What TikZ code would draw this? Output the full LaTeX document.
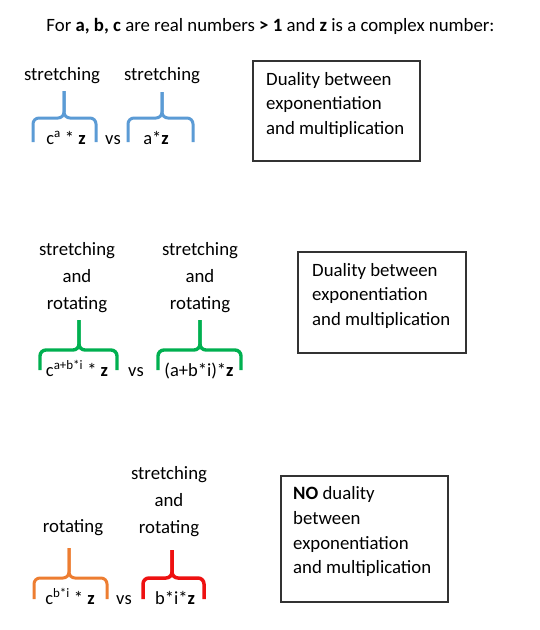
\documentclass[tikz,border=0pt]{standalone}
\usepackage{fontspec}
\setmainfont{Carlito}
\definecolor{bblue}{HTML}{5B9BD5}
\definecolor{bgreen}{HTML}{00B050}
\definecolor{borange}{HTML}{ED7D31}
\definecolor{bred}{HTML}{EE1111}
\newcommand{\drawbrace}[7]{%
  \draw[#1, rounded corners=6pt] (#2,#7) -- (#2,#6) -- (#3,#6) -- (#3,#5);
  \draw[#1, rounded corners=6pt] (#3,#5) -- (#3,#6) -- (#4,#6) -- (#4,#7);}
\begin{document}
\begin{tikzpicture}[x=1pt,y=-1pt,
  txt/.style={inner sep=0pt, anchor=base, font=\fontsize{18.8}{22}\selectfont},
  ltxt/.style={inner sep=0pt, anchor=base west, font=\fontsize{18.8}{22}\selectfont},
  ftxt/.style={inner sep=0pt, anchor=base, font=\fontsize{18.5}{22}\selectfont},
  infobox/.style={draw=black!80, line width=1.2pt, inner sep=0pt},
  brace/.style={line width=3pt, line cap=butt}]
\useasboundingbox (0,0) rectangle (540,630);
\fill[white] (0,0) rectangle (540,630);

% title
\node[txt] (title) at (270.5,31) {For \textbf{a, b, c} are real numbers \textbf{> 1} and \textbf{z} is a complex number:};

% ---------- group 1 ----------
\node[txt] (s1) at (62,80) {stretching};
\node[txt] (s2) at (162,80) {stretching};
\drawbrace{brace,bblue}{33}{64}{96}{91}{118}{142}
\drawbrace{brace,bblue}{128}{162}{193}{92}{118}{142}
\node[ftxt] (f1a) at (66,144) {c\textsuperscript{a} * \textbf{z}};
\node[ftxt] (vs1) at (113,144) {vs};
\node[ftxt] (f1b) at (156,144) {a*\textbf{z}};
\draw[infobox] (253,61) rectangle (420,161);
\node[ltxt] (b1l1) at (266,85) {Duality between};
\node[ltxt] (b1l2) at (266,109.5) {exponentiation};
\node[ltxt] (b1l3) at (266,134) {and multiplication};

% ---------- group 2 ----------
\node[txt] (g2a1) at (77,255) {stretching};
\node[txt] (g2a2) at (77,282) {and};
\node[txt] (g2a3) at (77,309) {rotating};
\node[txt] (g2b1) at (200,255) {stretching};
\node[txt] (g2b2) at (200,282) {and};
\node[txt] (g2b3) at (200,309) {rotating};
\drawbrace{brace,bgreen,line width=3.4pt}{40}{79}{117}{320}{350}{370}
\drawbrace{brace,bgreen,line width=3.4pt}{158}{200}{241}{320}{350}{370}
\node[ftxt] (f2a) at (77,376) {c\textsuperscript{a+b*i} * \textbf{z}};
\node[ftxt] (vs2) at (136,376) {vs};
\node[ftxt] (f2b) at (199,376) {(a+b*i)*\textbf{z}};
\draw[infobox] (298,252) rectangle (466,353);
\node[ltxt] (b2l1) at (312,276) {Duality between};
\node[ltxt] (b2l2) at (312,300.5) {exponentiation};
\node[ltxt] (b2l3) at (312,325) {and multiplication};

% ---------- group 3 ----------
\node[txt] (g3a1) at (73,532) {rotating};
\node[txt] (g3b1) at (169,479) {stretching};
\node[txt] (g3b2) at (169,506) {and};
\node[txt] (g3b3) at (169,533) {rotating};
\drawbrace{brace,borange}{34}{69}{107}{548}{578}{599}
\drawbrace{brace,bred,line width=3.5pt}{143}{172}{204}{550}{578}{599}
\node[ftxt] (f3a) at (70,604) {c\textsuperscript{b*i} * \textbf{z}};
\node[ftxt] (vs3) at (124,604) {vs};
\node[ftxt] (f3b) at (175,604) {b*i*\textbf{z}};
\draw[infobox] (281,476) rectangle (448,602);
\node[ltxt] (b3l1) at (293,499) {\textbf{NO} duality};
\node[ltxt] (b3l2) at (293,524) {between};
\node[ltxt] (b3l3) at (293,549) {exponentiation};
\node[ltxt] (b3l4) at (293,573) {and multiplication};
\end{tikzpicture}
\end{document}
